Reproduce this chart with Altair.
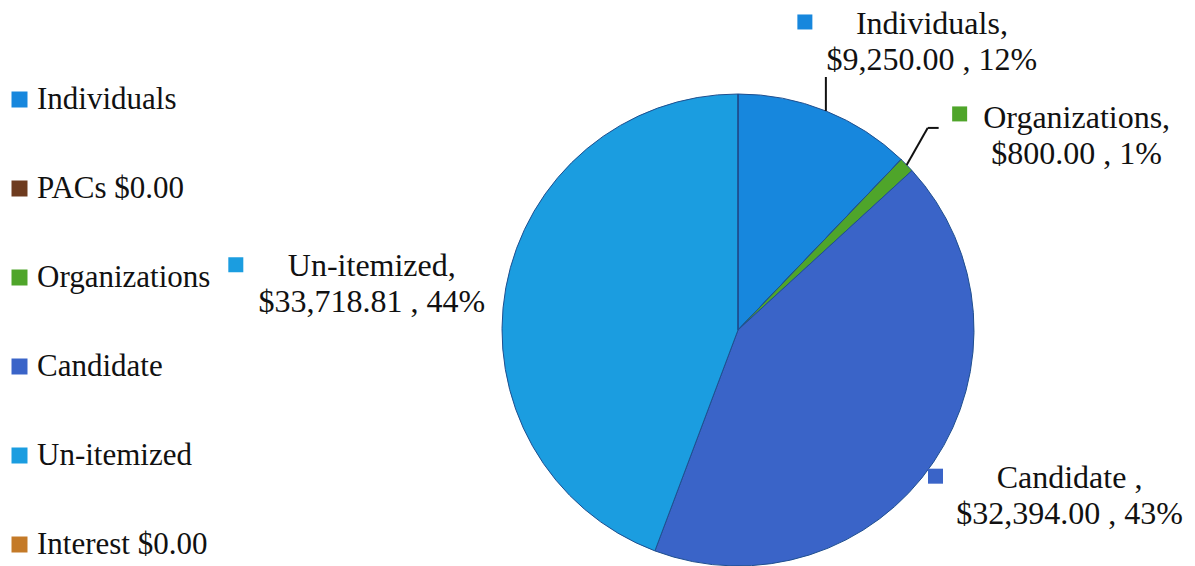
import altair as alt
import pandas as pd

# ---- data ----
categories = ["Individuals", "PACs", "Organizations", "Candidate", "Un-itemized", "Interest"]
legend_labels = ["Individuals", "PACs $0.00", "Organizations", "Candidate", "Un-itemized", "Interest $0.00"]
amounts = [9250.00, 0.00, 800.00, 32394.00, 33718.81, 0.00]
label_names = ["Individuals,", "", "Organizations,", "Candidate ,", "Un-itemized,", ""]
colors = ["#1787dd", "#6e3b1f", "#4fa52a", "#3a64c8", "#1b9de0", "#c47a28"]

df = pd.DataFrame({
    "idx": list(range(len(categories))),
    "category": categories,
    "legend": legend_labels,
    "amount": amounts,
    "name": label_names,
})

# ---- layout (styling, not data) ----
W, H = 914, 472
R = min(W, H) / 2
FONT = "'Liberation Serif', 'Times New Roman', Times, serif"
TEXT_COLOR = "#111111"

color_scale = alt.Scale(domain=legend_labels, range=colors)

pie = alt.Chart(df).mark_arc(stroke="#1f4f8f", strokeWidth=1).encode(
    theta=alt.Theta("amount:Q", stack=True),
    order=alt.Order("idx:Q"),
    color=alt.Color(
        "legend:N",
        scale=color_scale,
        title=None,
        legend=alt.Legend(
            orient="none", legendX=-277, legendY=-10,
            symbolType="square", symbolSize=256, symbolStrokeWidth=0,
            labelFont=FONT, labelFontSize=31, labelColor=TEXT_COLOR,
            rowPadding=57, labelOffset=2, padding=0, labelLimit=0,
        ),
    ),
)

# geometry derived from the data: mid-angle of each slice and its edge point
base = (
    alt.Chart(df)
    .transform_joinaggregate(total="sum(amount)")
    .transform_window(cum="sum(amount)", sort=[alt.SortField("idx")], frame=[None, 0])
    .transform_calculate(
        mid="2*PI*(datum.cum - datum.amount/2)/datum.total",
    )
    .transform_calculate(
        ex=f"{W/2} + {R}*sin(datum.mid)",
        ey=f"{H/2} - {R}*cos(datum.mid)",
        label="datum.name + '\\n' + format(datum.amount, '$,.2f') + ' , ' + format(datum.amount/datum.total, '.0%')",
    )
)

# per-label placement offsets (from the slice edge point)
label_layout = {
    "Individuals": dict(dx=106, dy=-87, mx=-21, my=-89),
    "Organizations": dict(dx=170, dy=-47, mx=53, my=-51),
    "Candidate": dict(dx=136, dy=16, mx=2, my=14),
    "Un-itemized": dict(dx=-134, dy=-22, mx=-270, my=-23),
}

layers = [pie]
for cat, lay in label_layout.items():
    sub = base.transform_filter(alt.datum.category == cat)
    layers.append(
        sub.transform_calculate(
            tx=f"datum.ex + {lay['dx']}", ty=f"datum.ey + {lay['dy']}"
        ).mark_text(
            font=FONT, fontSize=32, color=TEXT_COLOR, lineBreak="\n",
            align="center", baseline="middle", lineHeight=36,
        ).encode(
            x=alt.X("tx:Q", scale=None, axis=None),
            y=alt.Y("ty:Q", scale=None, axis=None),
            text="label:N",
        )
    )
    layers.append(
        sub.transform_calculate(
            sx=f"datum.ex + {lay['mx']}", sy=f"datum.ey + {lay['my']}"
        ).mark_square(size=225, filled=True, opacity=1).encode(
            x=alt.X("sx:Q", scale=None, axis=None),
            y=alt.Y("sy:Q", scale=None, axis=None),
            color=alt.Color("legend:N", scale=color_scale, legend=None),
        )
    )

# leader lines
leader_segments = [
    ("Individuals", 0, 0, 0, -34),
    ("Organizations", 0, 0, 21, -37),
    ("Organizations", 21, -37, 32, -37),
]
for cat, x0, y0, x1, y1 in leader_segments:
    layers.append(
        base.transform_filter(alt.datum.category == cat)
        .transform_calculate(
            rx=f"datum.ex + {x0}", ry=f"datum.ey + {y0}",
            rx2=f"datum.ex + {x1}", ry2=f"datum.ey + {y1}",
        )
        .mark_rule(color=TEXT_COLOR, strokeWidth=2)
        .encode(
            x=alt.X("rx:Q", scale=None, axis=None),
            y=alt.Y("ry:Q", scale=None, axis=None),
            x2="rx2:Q",
            y2="ry2:Q",
        )
    )

chart = (
    alt.layer(*layers)
    .properties(
        width=W, height=H,
        autosize=alt.AutoSizeParams(type="none"),
        padding={"left": 281, "top": 94, "right": 0, "bottom": 0},
        background="white",
    )
    .configure_view(stroke=None)
)

chart.save("out.html", embed_options={"renderer": "svg", "actions": False})
